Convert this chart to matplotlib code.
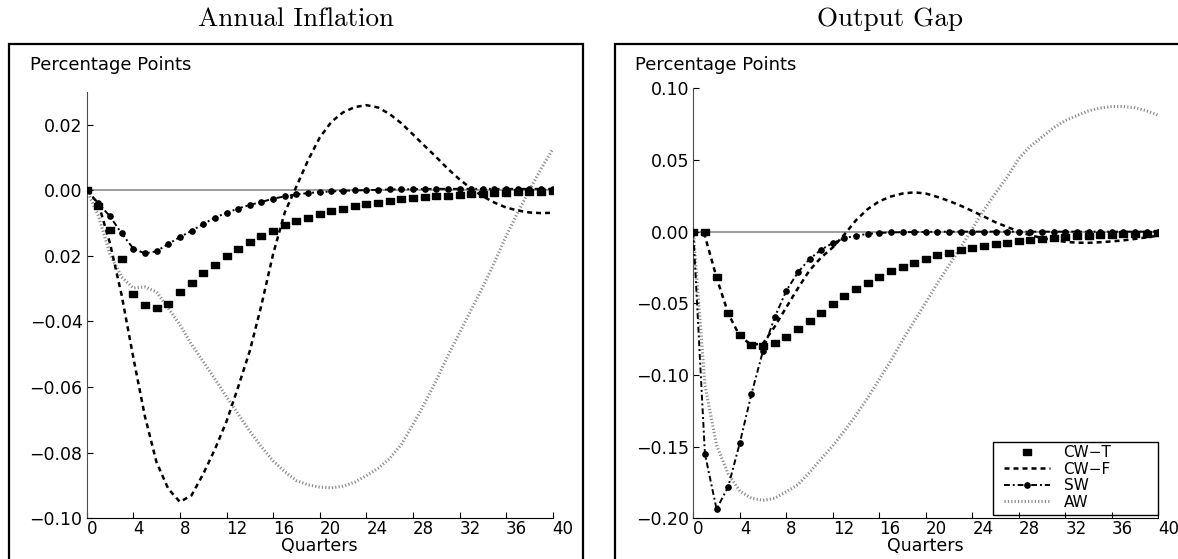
import matplotlib
matplotlib.use('Agg')
import matplotlib.pyplot as plt
from matplotlib.patches import Rectangle

quarters = list(range(41))

# Annual Inflation
infl_cwt = [0, -0.0049, -0.0122, -0.0211, -0.0315, -0.0351, -0.0360, -0.0346, -0.0310, -0.0283,
            -0.0254, -0.0228, -0.0201, -0.0178, -0.0159, -0.0139, -0.0123, -0.0107, -0.0095, -0.0084,
            -0.0073, -0.0064, -0.0056, -0.0049, -0.0043, -0.0038, -0.0032, -0.0028, -0.0025, -0.0022,
            -0.0019, -0.0017, -0.0015, -0.0013, -0.0011, -0.0010, -0.0008, -0.0007, -0.0006, -0.0005,
            -0.0004]
infl_cwf = [0, -0.0041, -0.0162, -0.0320, -0.0510, -0.0690, -0.0830, -0.0910, -0.0950, -0.0930,
            -0.0865, -0.0790, -0.0705, -0.0600, -0.0490, -0.0350, -0.0195, -0.0068, 0.0011, 0.0091,
            0.0160, 0.0208, 0.0237, 0.0253, 0.0259, 0.0252, 0.0232, 0.0204, 0.0170, 0.0135,
            0.0101, 0.0065, 0.0033, 0.0005, -0.0019, -0.0038, -0.0053, -0.0062, -0.0068, -0.0070,
            -0.0069]
infl_sw = [0, -0.0040, -0.0080, -0.0132, -0.0178, -0.0193, -0.0186, -0.0164, -0.0143, -0.0124,
           -0.0103, -0.0084, -0.0069, -0.0056, -0.0045, -0.0036, -0.0026, -0.0019, -0.0013, -0.0009,
           -0.0006, -0.0004, -0.0002, -0.0001, 0.0000, 0.0001, 0.0002, 0.0003, 0.0003, 0.0004,
           0.0004, 0.0004, 0.0004, 0.0004, 0.0004, 0.0004, 0.0004, 0.0004, 0.0004, 0.0004,
           0.0004]
infl_aw = [0, -0.0078, -0.0195, -0.0265, -0.0298, -0.0295, -0.0310, -0.0360, -0.0410, -0.0470,
           -0.0522, -0.0575, -0.0630, -0.0682, -0.0735, -0.0782, -0.0825, -0.0858, -0.0885, -0.0898,
           -0.0905, -0.0907, -0.0902, -0.0890, -0.0870, -0.0848, -0.0818, -0.0775, -0.0715, -0.0650,
           -0.0580, -0.0505, -0.0435, -0.0365, -0.0295, -0.0220, -0.0140, -0.0068, 0.0000, 0.0065,
           0.0125]

# Output Gap
gap_cwt = [0, 0, -0.0318, -0.0570, -0.0719, -0.0789, -0.0798, -0.0777, -0.0735, -0.0679,
           -0.0621, -0.0567, -0.0505, -0.0451, -0.0402, -0.0356, -0.0314, -0.0277, -0.0244, -0.0216,
           -0.0188, -0.0165, -0.0146, -0.0125, -0.0111, -0.0099, -0.0085, -0.0076, -0.0063, -0.0056,
           -0.0051, -0.0044, -0.0037, -0.0033, -0.0028, -0.0023, -0.0021, -0.0019, -0.0016, -0.0014,
           -0.0012]
gap_cwf = [0, -0.003, -0.032, -0.057, -0.073, -0.079, -0.078, -0.0663, -0.0528, -0.0395,
           -0.027, -0.018, -0.011, -0.002, 0.0080, 0.0157, 0.0212, 0.0245, 0.0266, 0.0274,
           0.0266, 0.0242, 0.0214, 0.0181, 0.0144, 0.0105, 0.0065, 0.0033, 0.0000, -0.0025,
           -0.0045, -0.0059, -0.0071, -0.0077, -0.0078, -0.0074, -0.0068, -0.0061, -0.0051, -0.0040,
           -0.0028]
gap_sw = [0, -0.155, -0.1936, -0.178, -0.1475, -0.1133, -0.083, -0.0598, -0.0412, -0.0284,
          -0.0191, -0.0126, -0.0079, -0.0046, -0.0028, -0.0016, -0.0009, -0.0006, -0.0004, -0.0003,
          -0.0002, -0.0001, 0, 0, 0, 0, 0, 0, 0, 0,
          0, 0, 0, 0, 0, 0, 0, 0, 0, 0,
          0]
gap_aw = [0, -0.107, -0.149, -0.169, -0.181, -0.186, -0.1875, -0.186, -0.1815, -0.1765,
          -0.168, -0.1585, -0.1494, -0.139, -0.128, -0.116, -0.103, -0.090, -0.0757, -0.0625,
          -0.0495, -0.036, -0.0235, -0.011, 0.002, 0.015, 0.027, 0.038, 0.051, 0.0597,
          0.066, 0.0725, 0.0775, 0.081, 0.0843, 0.0862, 0.0873, 0.0873, 0.0864, 0.0843,
          0.0812]

infl_ticks = [0.02, 0.0, -0.02, -0.04, -0.06, -0.08, -0.10]
infl_labels = ['0.02', '0.00', '0.02', '\u22120.04', '\u22120.06', '\u22120.08', '\u22120.10']
gap_ticks = [0.10, 0.05, 0.0, -0.05, -0.10, -0.15, -0.20]
gap_labels = ['0.10', '0.05', '0.00', '\u22120.05', '\u22120.10', '\u22120.15', '\u22120.20']
x_ticks = list(range(0, 41, 4))

W, H = 1178, 559
fig = plt.figure(figsize=(W / 100, H / 100), dpi=100)

rect_marker = [(-1.4, -1), (1.4, -1), (1.4, 1), (-1.4, 1), (-1.4, -1)]


def panel(ax, cwt, cwf, sw, aw, yl, ticks, labels):
    ax.axhline(0, color='0.55', lw=1.2, zorder=1)
    ax.plot(quarters, aw, color='0.55', lw=2.2, linestyle=(0, (0.4, 0.7)),
            dash_capstyle='butt', label='AW', zorder=2)
    ax.plot(quarters, cwt, linestyle='none', marker=rect_marker, ms=5.4,
            color='black', label='CW\u2212T', zorder=4)
    ax.plot(quarters, cwf, color='black', lw=1.8, linestyle=(0, (2, 1.6)),
            label='CW\u2212F', zorder=3)
    ax.plot(quarters, sw, color='black', lw=1.4, linestyle=(0, (3, 1.5, 1, 1.5)),
            marker='o', ms=3.8, label='SW', zorder=3)
    ax.set_xlim(0, 40)
    ax.set_ylim(*yl)
    ax.spines['top'].set_visible(False)
    ax.spines['right'].set_visible(False)
    ax.spines['left'].set_color('0.3')
    ax.set_xticks(x_ticks)
    ax.set_xticklabels([str(t) for t in x_ticks])
    for lb in ax.get_xticklabels():
        lb.set_ha('left')
    ax.set_yticks(ticks)
    ax.set_yticklabels(labels)
    ax.tick_params(direction='in', length=4, width=0.8, labelsize=12.5, pad=3)
    ax.tick_params(axis='x', pad=1.5, labelsize=12)
    ax.set_xlabel('Quarters', fontsize=12.5, labelpad=-1)


ax1 = fig.add_axes([86.7 / W, 1 - 518.3 / H, 466 / W, (518.3 - 91.7) / H])
panel(ax1, infl_cwt, infl_cwf, infl_sw, infl_aw, (-0.10, 0.03), infl_ticks, infl_labels)

ax2 = fig.add_axes([693.3 / W, 1 - 518.3 / H, 465 / W, (518.3 - 88.3) / H])
panel(ax2, gap_cwt, gap_cwf, gap_sw, gap_aw, (-0.20, 0.10), gap_ticks, gap_labels)

h, l = ax2.get_legend_handles_labels()
order = [1, 2, 3, 0]
leg = fig.legend([h[i] for i in order], [l[i] for i in order], loc='upper left',
                 bbox_to_anchor=(1004 / W, 1 - 445 / H), bbox_transform=fig.transFigure,
                 fontsize=11, labelspacing=0.1, handlelength=3.0, handletextpad=0.9,
                 borderpad=0.0, borderaxespad=0, numpoints=1, frameon=False)
# legend box
fig.patches.append(Rectangle((993 / W, 1 - 515 / H), 165 / W, 73 / H, transform=fig.transFigure,
                             fill=False, lw=1.0, ec='black'))

# panel frames
fig.patches.append(Rectangle((9 / W, -0.05), 574 / W, 0.05 + 1 - 44 / H, transform=fig.transFigure,
                             fill=False, lw=1.6, ec='black'))
fig.patches.append(Rectangle((615 / W, -0.05), 0.5, 0.05 + 1 - 44 / H, transform=fig.transFigure,
                             fill=False, lw=1.6, ec='black'))

fig.text(296 / W, 1 - 19 / H, 'Annual Inflation', family='cmr10', fontsize=19.5, ha='center', va='center')
fig.text(890 / W, 1 - 19 / H, 'Output Gap', family='cmr10', fontsize=19.5, ha='center', va='center')
fig.text(30 / W, 1 - 70 / H, 'Percentage Points', fontsize=13, va='baseline')
fig.text(635 / W, 1 - 70 / H, 'Percentage Points', fontsize=13, va='baseline')

fig.savefig('out.png', dpi=100)
